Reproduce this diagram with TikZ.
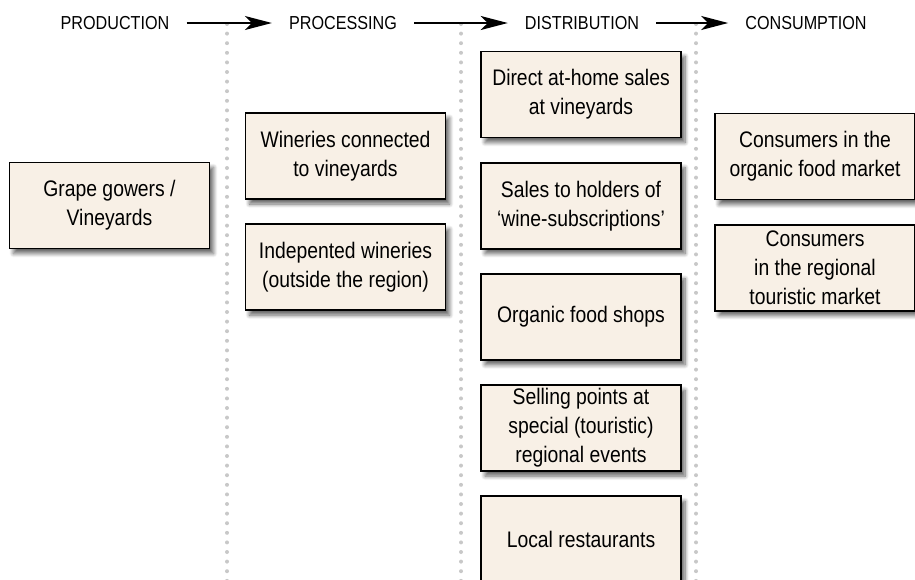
\documentclass[tikz,border=0pt]{standalone}
\usepackage{fontspec}
\setmainfont{Liberation Sans}[FakeStretch=0.86]
\usetikzlibrary{positioning, arrows.meta, shadows.blur}

\definecolor{boxfill}{RGB}{248,240,230}
\definecolor{dotgray}{RGB}{200,200,200}

\begin{document}
\begin{tikzpicture}[x=1pt, y=-1pt,
        node distance=23.4pt and 36pt,
        stage/.style={font=\fontsize{18.8}{20}\selectfont, inner xsep=17pt, text height=13pt, text depth=0pt},
        box/.style={rectangle, draw=black, line width=1.8pt, fill=boxfill, minimum width=200pt, minimum height=86pt, align=center, inner sep=2pt, font=\fontsize{22.5}{29}\selectfont, blur shadow={shadow xshift=4pt, shadow yshift=-5pt, shadow blur steps=8, shadow blur radius=4pt, shadow opacity=60}},
        arrow/.style={-{Stealth[length=27pt, width=14pt, inset=7pt]}, line width=1.7pt},
        divider/.style={dotgray, line width=4pt, line cap=round, dash pattern=on 0pt off 9.6pt}
        ]
        \useasboundingbox (0,0) rectangle (915,579);

        % column separators
        \foreach \x in {227,461,696}
            \draw[divider] (\x,24) -- (\x,585);

        % stages
        \node[stage] (production) at (115,23) {PRODUCTION};
        \node[stage] (processing) at (343,23) {PROCESSING};
        \node[stage] (distribution) at (582,23) {DISTRIBUTION};
        \node[stage] (consumption) at (806,23) {CONSUMPTION};

        \draw[arrow] (production) -- (processing);
        \draw[arrow] (processing) -- (distribution);
        \draw[arrow] (distribution) -- (consumption);

        % production
        \node[box] (growers) at (109.5,205.5) {Grape gowers /\\Vineyards};

        % processing
        \node[box] (connected) at (345.5,156) {Wineries connected\\to vineyards};
        \node[box, below=of connected] (independent) {Indepented wineries\\(outside the region)};

        % distribution
        \node[box] (athome) at (581,94.5) {Direct at-home sales\\at vineyards};
        \node[box, below=of athome] (subscriptions) {Sales to holders of\\`wine-subscriptions'};
        \node[box, below=of subscriptions] (shops) {Organic food shops};
        \node[box, below=of shops] (events) {Selling points at\\special (touristic)\\regional events};
        \node[box, below=of events] (restaurants) {Local restaurants};

        % consumption
        \node[box] (organicmarket) at (815,156.5) {Consumers in the\\organic food market};
        \node[box, below=of organicmarket] (touristmarket) {Consumers\\ in the regional\\touristic market};
    \end{tikzpicture}
\end{document}
